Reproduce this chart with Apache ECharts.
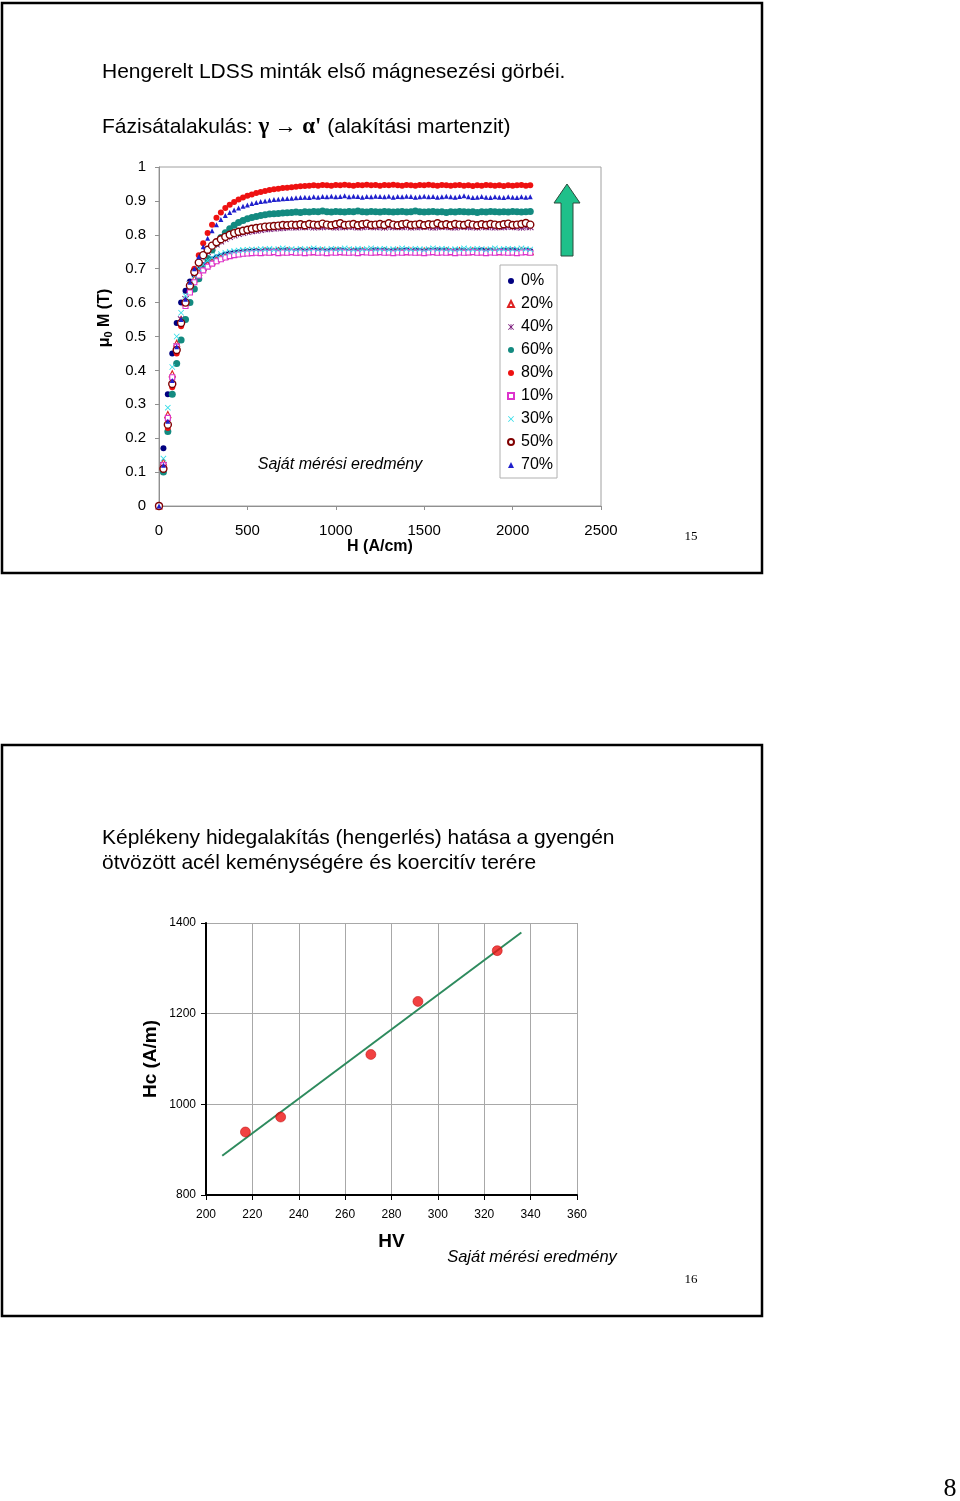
<!DOCTYPE html>
<html><head><meta charset="utf-8">
<script src="https://cdn.jsdelivr.net/npm/echarts@6/dist/echarts.min.js"></script>
<style>html,body{margin:0;padding:0;background:#fff}#c{width:960px;height:1501px}</style>
</head><body><div id="c"></div>
<script>
// ---------- Chart 1: first magnetisation curves ----------
const H_FIELD = [
  0,25,50,75,100,125,150,175,200,225,
  250,275,300,325,350,375,400,425,450,475,
  500,525,550,575,600,625,650,675,700,725,
  750,775,800,825,850,875,900,925,950,975,
  1000,1025,1050,1075,1100,1125,1150,1175,1200,1225,
  1250,1275,1300,1325,1350,1375,1400,1425,1450,1475,
  1500,1525,1550,1575,1600,1625,1650,1675,1700,1725,
  1750,1775,1800,1825,1850,1875,1900,1925,1950,1975,
  2000,2025,2050,2075,2100];
const SERIES_NAMES = ['0%','20%','40%','60%','80%','10%','30%','50%','70%'];
const M_0 = [
  0,0.17,0.33,0.45,0.54,0.60,0.635,0.662,0.682,0.697,
  0.710,0.719,0.727,0.733,0.737,0.741,0.744,0.746,0.748,0.749,
  0.750,0.751,0.752,0.750,0.753,0.752,0.751,0.753,0.752,0.754,
  0.751,0.752,0.753,0.751,0.752,0.754,0.753,0.752,0.751,0.753,
  0.752,0.754,0.752,0.751,0.753,0.752,0.753,0.751,0.752,0.754,
  0.752,0.753,0.751,0.752,0.753,0.752,0.754,0.751,0.753,0.752,
  0.751,0.753,0.752,0.754,0.752,0.753,0.751,0.752,0.753,0.752,
  0.751,0.753,0.752,0.754,0.752,0.753,0.751,0.752,0.753,0.752,
  0.754,0.752,0.751,0.753,0.752];
const M_10 = [
  0,0.12,0.26,0.38,0.47,0.54,0.59,0.63,0.66,0.68,
  0.695,0.706,0.715,0.722,0.728,0.733,0.737,0.740,0.742,0.744,
  0.745,0.746,0.747,0.746,0.748,0.747,0.749,0.746,0.748,0.747,
  0.749,0.747,0.748,0.746,0.748,0.749,0.747,0.748,0.746,0.748,
  0.747,0.749,0.748,0.747,0.748,0.746,0.749,0.748,0.747,0.748,
  0.749,0.747,0.748,0.746,0.748,0.747,0.749,0.748,0.747,0.748,
  0.746,0.748,0.749,0.747,0.748,0.747,0.749,0.746,0.748,0.747,
  0.748,0.749,0.747,0.748,0.746,0.748,0.747,0.749,0.748,0.747,
  0.748,0.746,0.748,0.749,0.747];
const M_20 = [
  0,0.13,0.27,0.39,0.48,0.55,0.60,0.64,0.67,0.69,
  0.703,0.713,0.721,0.728,0.733,0.737,0.741,0.744,0.746,0.748,
  0.749,0.750,0.751,0.749,0.752,0.750,0.751,0.753,0.750,0.752,
  0.751,0.750,0.752,0.751,0.753,0.750,0.751,0.752,0.750,0.751,
  0.753,0.751,0.750,0.752,0.751,0.750,0.752,0.751,0.753,0.750,
  0.751,0.752,0.750,0.751,0.753,0.751,0.750,0.752,0.751,0.750,
  0.752,0.751,0.753,0.750,0.751,0.752,0.750,0.751,0.753,0.751,
  0.750,0.752,0.751,0.750,0.752,0.751,0.753,0.750,0.751,0.752,
  0.750,0.751,0.753,0.751,0.750];
const M_30 = [
  0,0.14,0.29,0.41,0.50,0.57,0.62,0.655,0.68,0.70,
  0.713,0.724,0.732,0.738,0.743,0.747,0.750,0.752,0.754,0.755,
  0.756,0.757,0.756,0.758,0.757,0.759,0.756,0.758,0.760,0.757,
  0.758,0.756,0.759,0.757,0.758,0.760,0.757,0.758,0.756,0.759,
  0.758,0.757,0.760,0.758,0.756,0.759,0.757,0.758,0.760,0.757,
  0.758,0.759,0.756,0.758,0.757,0.760,0.758,0.757,0.759,0.758,
  0.756,0.758,0.760,0.757,0.759,0.758,0.756,0.758,0.757,0.760,
  0.758,0.757,0.759,0.758,0.756,0.758,0.760,0.757,0.758,0.759,
  0.757,0.758,0.760,0.758,0.757];
const M_40 = [
  0,0.12,0.25,0.37,0.47,0.55,0.61,0.655,0.69,0.715,
  0.735,0.750,0.762,0.772,0.781,0.788,0.794,0.799,0.803,0.806,
  0.809,0.811,0.813,0.815,0.817,0.818,0.819,0.820,0.821,0.822,
  0.823,0.822,0.824,0.823,0.825,0.822,0.824,0.823,0.825,0.824,
  0.822,0.824,0.823,0.825,0.824,0.822,0.823,0.825,0.824,0.823,
  0.824,0.822,0.825,0.823,0.824,0.823,0.825,0.822,0.824,0.823,
  0.825,0.824,0.822,0.823,0.825,0.824,0.823,0.822,0.824,0.825,
  0.823,0.824,0.822,0.825,0.823,0.824,0.822,0.824,0.823,0.825,
  0.824,0.823,0.822,0.824,0.823];
const M_50 = [
  0,0.11,0.24,0.36,0.46,0.54,0.60,0.65,0.69,0.718,
  0.740,0.756,0.768,0.778,0.787,0.794,0.800,0.805,0.809,0.812,
  0.815,0.818,0.820,0.822,0.824,0.825,0.826,0.827,0.829,0.828,
  0.830,0.829,0.831,0.828,0.832,0.830,0.829,0.833,0.830,0.828,
  0.831,0.834,0.829,0.830,0.832,0.828,0.831,0.833,0.829,0.830,
  0.832,0.829,0.834,0.830,0.828,0.831,0.833,0.829,0.830,0.832,
  0.828,0.831,0.830,0.834,0.829,0.831,0.828,0.832,0.830,0.829,
  0.833,0.830,0.828,0.831,0.829,0.832,0.830,0.828,0.831,0.833,
  0.829,0.830,0.832,0.835,0.830];
const M_60 = [
  0,0.10,0.22,0.33,0.42,0.49,0.55,0.60,0.64,0.67,
  0.700,0.730,0.755,0.775,0.792,0.806,0.818,0.828,0.836,0.842,
  0.847,0.851,0.854,0.857,0.859,0.861,0.862,0.863,0.864,0.865,
  0.866,0.867,0.866,0.868,0.867,0.869,0.868,0.870,0.868,0.867,
  0.869,0.868,0.867,0.869,0.868,0.870,0.868,0.867,0.869,0.868,
  0.867,0.869,0.868,0.867,0.868,0.869,0.867,0.868,0.870,0.868,
  0.867,0.868,0.869,0.867,0.868,0.866,0.868,0.867,0.869,0.868,
  0.867,0.868,0.866,0.868,0.867,0.869,0.868,0.867,0.868,0.867,
  0.869,0.868,0.867,0.868,0.869];
const M_70 = [
  0,0.12,0.25,0.37,0.47,0.55,0.61,0.66,0.70,0.735,
  0.765,0.790,0.812,0.830,0.845,0.857,0.866,0.873,0.879,0.884,
  0.888,0.892,0.895,0.898,0.900,0.902,0.904,0.905,0.906,0.907,
  0.908,0.909,0.910,0.911,0.910,0.912,0.911,0.913,0.912,0.914,
  0.912,0.913,0.915,0.912,0.914,0.913,0.911,0.913,0.912,0.914,
  0.913,0.912,0.914,0.911,0.913,0.912,0.914,0.913,0.911,0.912,
  0.914,0.912,0.913,0.911,0.912,0.914,0.912,0.911,0.913,0.915,
  0.912,0.910,0.911,0.913,0.911,0.910,0.912,0.911,0.910,0.912,
  0.911,0.910,0.912,0.911,0.912];
const M_80 = [
  0,0.11,0.23,0.35,0.45,0.53,0.60,0.655,0.70,0.74,
  0.775,0.805,0.830,0.850,0.866,0.879,0.889,0.897,0.904,0.910,
  0.915,0.919,0.923,0.926,0.929,0.932,0.934,0.936,0.938,0.939,
  0.940,0.942,0.943,0.944,0.945,0.946,0.945,0.947,0.946,0.945,
  0.947,0.946,0.948,0.946,0.945,0.947,0.946,0.948,0.946,0.947,
  0.945,0.947,0.946,0.948,0.946,0.945,0.947,0.946,0.945,0.947,
  0.946,0.948,0.946,0.945,0.947,0.946,0.945,0.946,0.947,0.945,
  0.946,0.944,0.946,0.945,0.947,0.946,0.945,0.946,0.944,0.946,
  0.945,0.946,0.947,0.945,0.946];
const M_BY_SERIES = [M_0, M_20, M_40, M_60, M_80, M_10, M_30, M_50, M_70];

// ---------- Chart 2: hardness vs coercivity ----------
const HV = [217.0, 232.2, 271.1, 291.4, 325.6];
const HC = [939, 972, 1110, 1227, 1339];
const TREND_HV = [207, 336];

// ---------- styles ----------
const SANS = '"Liberation Sans", Arial, Helvetica, sans-serif';
const SERIF = '"Liberation Serif", "Times New Roman", serif';
const X_PATH = 'path://M0,1L1,0L5,4L9,0L10,1L6,5L10,9L9,10L5,6L1,10L0,9L4,5Z';
const AST_PATH = 'path://M0,1L1,0L5,4L9,0L10,1L6,5L10,9L9,10L5,6L1,10L0,9L4,5Z M4.4,0L5.6,0L5.6,10L4.4,10Z';
// open markers: white fill + coloured thin outline
const MARKERS = [
  {symbol:'circle', size:6, color:'#000080'},
  {symbol:'triangle', size:6, color:'#fff', border:'#dd2222', bw:1.1},
  {symbol:AST_PATH, size:7, color:'#7a1a7a'},
  {symbol:'circle', size:7, color:'#138a80'},
  {symbol:'circle', size:6, color:'#ee1111'},
  {symbol:'rect', size:5, color:'#fff', border:'#dd33cc', bw:1.1},
  {symbol:X_PATH, size:6, color:'#33dde8'},
  {symbol:'circle', size:7, color:'#fff', border:'#800000', bw:1.4},
  {symbol:'triangle', size:5, color:'#2020cc'}
];
const plain = v => String(Math.round(v * 1000) / 1000);

// trend line from least squares on HV/HC
const n = HV.length;
const mx = HV.reduce((a,b)=>a+b,0)/n, my = HC.reduce((a,b)=>a+b,0)/n;
let sxy=0, sxx=0;
for (let i=0;i<n;i++){ sxy+=(HV[i]-mx)*(HC[i]-my); sxx+=(HV[i]-mx)*(HV[i]-mx); }
const slope = sxy/sxx, icpt = my - slope*mx;
const trendData = TREND_HV.map(x=>[x, icpt+slope*x]);

const series1 = SERIES_NAMES.map((name,k)=>({
  name, type:'scatter', xAxisIndex:0, yAxisIndex:0,
  symbol: MARKERS[k].symbol, symbolSize: MARKERS[k].size,
  itemStyle: MARKERS[k].border
    ? {color: MARKERS[k].color, borderColor: MARKERS[k].border, borderWidth: MARKERS[k].bw, opacity:1}
    : {color: MARKERS[k].color, borderWidth: 0, opacity:1},
  emphasis:{disabled:true}, silent:true, animation:false,
  data: H_FIELD.map((h,i)=>[h, M_BY_SERIES[k][i]])
}));

const chart = echarts.init(document.getElementById('c'), null, {renderer:'canvas'});
chart.setOption({
  backgroundColor:'#fff',
  animation:false,
  textStyle:{fontFamily:SANS},
  grid:[
    {left:159, top:167, width:442, height:339, show:true, borderColor:'#a0a0a0', borderWidth:1, backgroundColor:'#fff'},
    {left:206, top:923, width:371, height:272, show:false}
  ],
  legend:{
    data:SERIES_NAMES, orient:'vertical', left:500, top:265,
    itemWidth:6, itemHeight:6, itemGap:5,
    padding:[7,4,4,7],
    backgroundColor:'#fff', borderColor:'#b0b0b0', borderWidth:1, borderRadius:0,
    selectedMode:false,
    textStyle:{fontFamily:SANS, fontSize:16, color:'#000', lineHeight:18, padding:[0,0,0,2]}
  },
  xAxis:[
    {gridIndex:0, type:'value', min:0, max:2500, interval:500,
     name:'H (A/cm)', nameLocation:'middle', nameGap:33,
     nameTextStyle:{fontSize:16, fontWeight:'bold', color:'#000', fontFamily:SANS},
     axisLine:{lineStyle:{color:'#909090'}}, axisTick:{show:true, length:4, lineStyle:{color:'#909090'}},
     axisLabel:{fontSize:15, color:'#000', margin:17, fontFamily:SANS, formatter:plain}, splitLine:{show:false}},
    {gridIndex:1, type:'value', min:200, max:360, interval:20,
     name:'HV', nameLocation:'middle', nameGap:37,
     nameTextStyle:{fontSize:19, fontWeight:'bold', color:'#000', fontFamily:SANS},
     axisLine:{lineStyle:{color:'#000', width:2}}, axisTick:{show:true, length:5, lineStyle:{color:'#000'}},
     axisLabel:{fontSize:12, color:'#000', margin:14, fontFamily:SANS, formatter:plain},
     splitLine:{show:true, lineStyle:{color:'#a8a8a8', width:1}}}
  ],
  yAxis:[
    {gridIndex:0, type:'value', min:0, max:1, interval:0.1,
     axisLine:{show:true, lineStyle:{color:'#909090'}}, axisTick:{show:true, length:4, lineStyle:{color:'#909090'}},
     axisLabel:{fontSize:15, color:'#000', margin:13, fontFamily:SANS, formatter:plain}, splitLine:{show:false}},
    {gridIndex:1, type:'value', min:800, max:1400, interval:200,
     name:'Hc (A/m)', nameLocation:'middle', nameGap:46,
     nameTextStyle:{fontSize:19, fontWeight:'bold', color:'#000', fontFamily:SANS},
     axisLine:{show:true, lineStyle:{color:'#000', width:2}}, axisTick:{show:true, length:5, lineStyle:{color:'#000'}},
     axisLabel:{fontSize:12, color:'#000', margin:10, fontFamily:SANS, formatter:plain},
     splitLine:{show:true, lineStyle:{color:'#a8a8a8', width:1}}}
  ],
  series: series1.concat([
    {type:'line', xAxisIndex:1, yAxisIndex:1, data:trendData, symbol:'none', silent:true,
     lineStyle:{color:'#2e8b5e', width:2}, z:3},
    {type:'scatter', xAxisIndex:1, yAxisIndex:1, data:HV.map((x,i)=>[x,HC[i]]),
     symbol:'circle', symbolSize:10, silent:true,
     itemStyle:{color:'#ee1111', borderColor:'#b80000', borderWidth:0.6}, z:4}
  ]),
  graphic:[
    {type:'rect', shape:{x:2, y:3, width:760, height:570}, style:{fill:'none', stroke:'#000', lineWidth:2.5}, z:100},
    {type:'rect', shape:{x:2, y:745, width:760, height:571}, style:{fill:'none', stroke:'#000', lineWidth:2.5}, z:100},
    {type:'text', x:102, y:72, style:{text:'Hengerelt LDSS minták első mágnesezési görbéi.', font:'21px '+SANS, fill:'#000', verticalAlign:'middle', textVerticalAlign:'middle'}},
    {type:'text', x:102, y:127, style:{
      text:'{n|Fázisátalakulás: }{g|γ}{a| → }{g|α\'}{n| (alakítási martenzit)}',
      verticalAlign:'middle', textVerticalAlign:'middle', fill:'#000',
      rich:{n:{fontSize:21, fontFamily:SANS, fill:'#000'},
            a:{fontSize:22, fontFamily:SERIF, fill:'#000'},
            g:{fontSize:23, fontFamily:SERIF, fontWeight:'bold', fill:'#000'}}
    }},
    {type:'text', x:105, y:318, rotation:Math.PI/2, style:{
      text:'{a|μ}{s|0}{a| M (T)}', align:'center', textAlign:'center', verticalAlign:'middle', textVerticalAlign:'middle',
      rich:{a:{fontSize:16, fontWeight:'bold', fontFamily:SANS, fill:'#000'}, s:{fontSize:11, fontWeight:'bold', fontFamily:SANS, fill:'#000', padding:[7,0,0,0]}}
    }},
    {type:'text', x:340, y:465, style:{text:'Saját mérési eredmény', font:'italic 16px '+SANS, fill:'#000', align:'center', textAlign:'center', verticalAlign:'middle', textVerticalAlign:'middle'}},
    {type:'polygon', shape:{points:[[567,184],[580,203],[573,203],[573,256],[561,256],[561,203],[554,203]]},
     style:{fill:'#1fc08a', stroke:'#2c4a3c', lineWidth:1}, z:50},
    {type:'text', x:691, y:537, style:{text:'15', font:'13px '+SERIF, fill:'#000', align:'center', textAlign:'center', verticalAlign:'middle', textVerticalAlign:'middle'}},
    {type:'text', x:102, y:838, style:{text:'Képlékeny hidegalakítás (hengerlés) hatása a gyengén', font:'21px '+SANS, fill:'#000', verticalAlign:'middle', textVerticalAlign:'middle'}},
    {type:'text', x:102, y:863, style:{text:'ötvözött acél keménységére és koercitív terére', font:'21px '+SANS, fill:'#000', verticalAlign:'middle', textVerticalAlign:'middle'}},
    {type:'text', x:532, y:1257, style:{text:'Saját mérési eredmény', font:'italic 16.5px '+SANS, fill:'#000', align:'center', textAlign:'center', verticalAlign:'middle', textVerticalAlign:'middle'}},
    {type:'text', x:691, y:1280, style:{text:'16', font:'13px '+SERIF, fill:'#000', align:'center', textAlign:'center', verticalAlign:'middle', textVerticalAlign:'middle'}},
    {type:'text', x:950, y:1489, style:{text:'8', font:'26px '+SERIF, fill:'#000', align:'center', textAlign:'center', verticalAlign:'middle', textVerticalAlign:'middle'}}
  ]
});
</script></body></html>
